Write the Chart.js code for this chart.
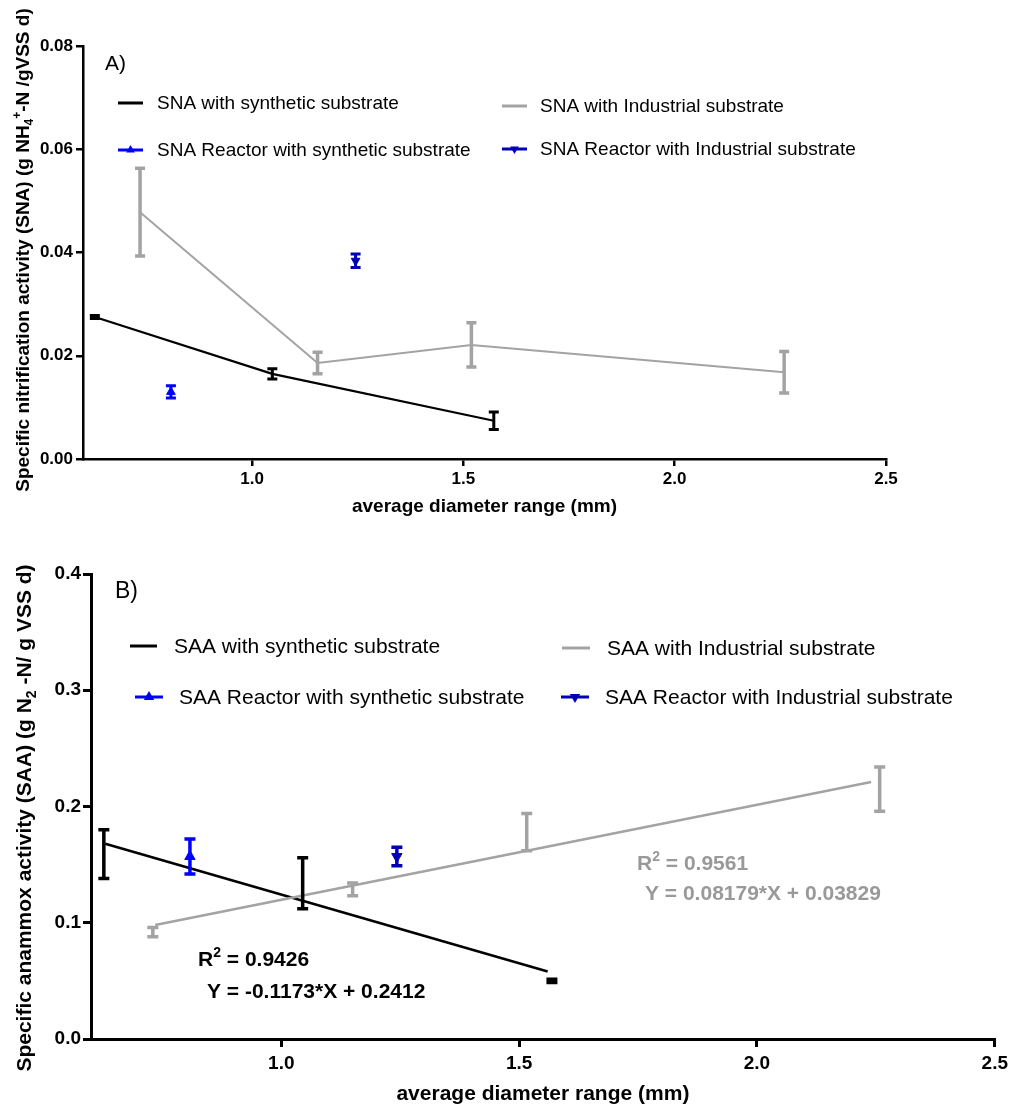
<!DOCTYPE html>
<html>
<head>
<title>SNA and SAA vs average diameter range</title>
<script src="https://cdn.jsdelivr.net/npm/chart.js"></script>
<style>
  body { margin: 0; background: #fff; }
  #wrap { position: relative; width: 1013px; height: 1107px; }
  #chartA { position: absolute; left: 0; top: 0; }
  #chartB { position: absolute; left: 0; top: 540px; }
</style>
</head>
<body>
<div id="wrap">
  <canvas id="chartA" width="1013" height="540"></canvas>
  <canvas id="chartB" width="1013" height="567"></canvas>
</div>

<script>
// ---- data ----
const xTicks = [1.0, 1.5, 2.0, 2.5];
const snaTicks = [0, 0.02, 0.04, 0.06, 0.08];
const saaTicks = [0, 0.1, 0.2, 0.3, 0.4];

// A) specific nitrification activity
const snaSynX = [0.628, 1.048, 1.572];
const snaSynY = [0.0275, 0.0165, 0.0074];
const snaSynErr = [0.0003, 0.0010, 0.0017];
const snaIndX = [0.735, 1.155, 1.519, 2.259];
const snaIndY = [0.0478, 0.0186, 0.0221, 0.0168];
const snaIndErr = [0.0085, 0.0021, 0.0043, 0.0040];
const snaRSynX = [0.808];
const snaRSynY = [0.0130];
const snaRSynErr = [0.0012];
const snaRIndX = [1.245];
const snaRIndY = [0.0384];
const snaRIndErr = [0.0013];

// B) specific anammox activity
const saaSynX = [0.627, 1.045, 1.569];
const saaSynY = [0.159, 0.134, 0.050];
const saaSynErr = [0.021, 0.022, 0.0015];
const saaSynFitX = [0.63, 1.56];
const saaSynFitY = [0.168, 0.058];
const saaIndX = [0.730, 1.150, 1.516, 2.258];
const saaIndY = [0.092, 0.1287, 0.178, 0.215];
const saaIndErr = [0.004, 0.0055, 0.016, 0.019];
const saaIndFitX = [0.735, 2.24];
const saaIndFitY = [0.098, 0.221];
const saaRSynX = [0.808];
const saaRSynY = [0.157];
const saaRSynErr = [0.015];
const saaRIndX = [1.243];
const saaRIndY = [0.157];
const saaRIndErr = [0.008];

const legendA = ['SNA with synthetic substrate', 'SNA with Industrial substrate',
                 'SNA Reactor with synthetic substrate', 'SNA Reactor with Industrial substrate'];
const legendB = ['SAA with synthetic substrate', 'SAA with Industrial substrate',
                 'SAA Reactor with synthetic substrate', 'SAA Reactor with Industrial substrate'];
const fitSynText = ['0.9426', 'Y = -0.1173*X + 0.2412'];
const fitIndText = ['0.9561', 'Y = 0.08179*X + 0.03829'];

const FONT = '"Liberation Sans", Arial, Helvetica, sans-serif';
const BLACK = '#000000', GREY = '#a3a3a3', BLUE = '#0000ff', DBLUE = '#0000b4';

const pts = (xs, ys) => xs.map((x, i) => ({ x: x, y: ys[i] }));

// rich text with sub/superscripts: parts = [[text, 'sub'|'sup'|undefined], ...]
function drawRich(ctx, parts, x, y, size, weight, color, align, rotate) {
  ctx.save();
  ctx.translate(x, y);
  if (rotate) ctx.rotate(rotate);
  ctx.fillStyle = color;
  ctx.textBaseline = 'alphabetic';
  const fontFor = p => `${weight} ${p[1] ? Math.round(size * 0.65) : size}px ${FONT}`;
  let total = 0;
  parts.forEach(p => { ctx.font = fontFor(p); total += ctx.measureText(p[0]).width; });
  let cx = align === 'center' ? -total / 2 : 0;
  parts.forEach(p => {
    ctx.font = fontFor(p);
    const dy = p[1] === 'sub' ? size * 0.22 : p[1] === 'sup' ? -size * 0.42 : 0;
    ctx.fillText(p[0], cx, dy);
    cx += ctx.measureText(p[0]).width;
  });
  ctx.restore();
}

function triangle(ctx, x, y, r, down, color) {
  ctx.save();
  ctx.fillStyle = color;
  ctx.beginPath();
  const s = down ? -1 : 1;
  ctx.moveTo(x, y - s * r);
  ctx.lineTo(x + r * 0.87, y + s * r * 0.5);
  ctx.lineTo(x - r * 0.87, y + s * r * 0.5);
  ctx.closePath();
  ctx.fill();
  ctx.restore();
}

function legendEntry(ctx, e, size, lw, r) {
  ctx.save();
  ctx.strokeStyle = e.color;
  ctx.lineWidth = lw;
  ctx.beginPath();
  ctx.moveTo(e.x1, e.y);
  ctx.lineTo(e.x2, e.y);
  ctx.stroke();
  if (e.marker) triangle(ctx, (e.x1 + e.x2) / 2, e.y, r, e.marker === 'down', e.color);
  ctx.fillStyle = '#000';
  ctx.font = `${size}px ${FONT}`;
  ctx.textBaseline = 'middle';
  ctx.fillText(e.label, e.tx, e.y + 1);
  ctx.restore();
}

const errorBars = {
  id: 'errorBars',
  afterDatasetsDraw(chart) {
    const { ctx, scales: { x, y } } = chart;
    chart.data.datasets.forEach(ds => {
      if (!ds.err) return;
      ctx.save();
      ctx.strokeStyle = ds.borderColor;
      ctx.lineWidth = ds.barWidth;
      ctx.lineCap = 'butt';
      ds.data.forEach((p, i) => {
        const px = x.getPixelForValue(p.x);
        const top = y.getPixelForValue(p.y + ds.err[i]);
        const bot = y.getPixelForValue(p.y - ds.err[i]);
        const c = ds.cap;
        ctx.beginPath();
        ctx.moveTo(px, top); ctx.lineTo(px, bot);
        ctx.moveTo(px - c, top); ctx.lineTo(px + c, top);
        ctx.moveTo(px - c, bot); ctx.lineTo(px + c, bot);
        ctx.stroke();
      });
      ctx.restore();
    });
  }
};

function scales(p) {
  return {
    x: {
      type: 'linear', min: 0.6, max: 2.5,
      afterBuildTicks: s => { s.ticks = xTicks.map(v => ({ value: v })); },
      afterFit: s => { s.height = p.xH; },
      ticks: { color: '#000', font: { family: FONT, size: p.tick, weight: 'bold' }, padding: p.xPad,
               maxRotation: 0, autoSkip: false, callback: v => v.toFixed(1) },
      grid: { drawOnChartArea: false, drawTicks: true, tickLength: p.tl, tickWidth: p.lw,
              tickColor: '#000', color: '#000', lineWidth: p.lw },
      border: { display: true, color: '#000', width: p.lw }
    },
    y: {
      type: 'linear', min: p.yTicks[0], max: p.yTicks[p.yTicks.length - 1],
      afterBuildTicks: s => { s.ticks = p.yTicks.map(v => ({ value: v })); },
      afterFit: s => { s.width = p.yW; },
      ticks: { color: '#000', font: { family: FONT, size: p.tick, weight: 'bold' }, padding: p.yPad,
               autoSkip: false, callback: v => v.toFixed(p.dec) },
      grid: { drawOnChartArea: false, drawTicks: true, tickLength: p.tl, tickWidth: p.lw,
              tickColor: '#000', color: '#000', lineWidth: p.lw },
      border: { display: true, color: '#000', width: p.lw }
    }
  };
}

const common = {
  responsive: false,
  animation: false,
  plugins: { legend: { display: false }, tooltip: { enabled: false } },
  elements: { line: { tension: 0 } }
};

// ---- chart A ----
new Chart(document.getElementById('chartA'), {
  type: 'scatter',
  data: {
    datasets: [
      { data: pts(snaIndX, snaIndY), err: snaIndErr, showLine: true, borderColor: GREY, borderWidth: 2,
        pointRadius: 0, barWidth: 3.5, cap: 5 },
      { data: pts(snaSynX, snaSynY), err: snaSynErr, showLine: true, borderColor: BLACK, borderWidth: 2.2,
        pointRadius: 0, barWidth: 3, cap: 5 },
      { data: pts(snaRSynX, snaRSynY), err: snaRSynErr, borderColor: BLUE, backgroundColor: BLUE,
        pointStyle: 'triangle', pointRadius: 5, barWidth: 3, cap: 5 },
      { data: pts(snaRIndX, snaRIndY), err: snaRIndErr, borderColor: DBLUE, backgroundColor: DBLUE,
        pointStyle: 'triangle', rotation: 180, pointRadius: 5, barWidth: 3, cap: 5 }
    ]
  },
  options: Object.assign({}, common, {
    layout: { padding: { top: 46, right: 127, left: 0, bottom: 0 } },
    scales: scales({ xH: 81, yW: 83, tick: 17, xPad: 3, yPad: 3, tl: 7, lw: 2.5, yTicks: snaTicks, dec: 2 })
  }),
  plugins: [errorBars, {
    id: 'decorA',
    afterDraw(chart) {
      const ctx = chart.ctx;
      const a = chart.chartArea;
      drawRich(ctx, [['Specific nitrification activity (SNA) (g NH'], ['4', 'sub'], ['+', 'sup'], ['-N /gVSS d)']],
               29, 250, 19, 'bold', '#000', 'center', -Math.PI / 2);
      drawRich(ctx, [['average diameter range (mm)']], (a.left + a.right) / 2, 512, 19, 'bold', '#000', 'center');
      ctx.save();
      ctx.font = `21px ${FONT}`; ctx.fillStyle = '#000'; ctx.textBaseline = 'middle';
      ctx.fillText('A)', 105, 64);
      ctx.restore();
      const rows = [
        { x1: 118, x2: 143, y: 103, tx: 157, color: BLACK, label: legendA[0] },
        { x1: 502, x2: 527, y: 106, tx: 540, color: GREY, label: legendA[1] },
        { x1: 118, x2: 143, y: 150, tx: 157, color: BLUE, marker: 'up', label: legendA[2] },
        { x1: 502, x2: 527, y: 149, tx: 540, color: DBLUE, marker: 'down', label: legendA[3] }
      ];
      rows.forEach(e => legendEntry(ctx, e, 19, 3, 5));
    }
  }]
});

// ---- chart B ----
new Chart(document.getElementById('chartB'), {
  type: 'scatter',
  data: {
    datasets: [
      { data: pts(saaIndFitX, saaIndFitY), showLine: true, borderColor: GREY, borderWidth: 2.5, pointRadius: 0 },
      { data: pts(saaSynFitX, saaSynFitY), showLine: true, borderColor: BLACK, borderWidth: 2.5, pointRadius: 0 },
      { data: pts(saaIndX, saaIndY), err: saaIndErr, borderColor: GREY, pointRadius: 0, barWidth: 3.5, cap: 5.5 },
      { data: pts(saaSynX, saaSynY), err: saaSynErr, borderColor: BLACK, pointRadius: 0, barWidth: 3.5, cap: 5.5 },
      { data: pts(saaRSynX, saaRSynY), err: saaRSynErr, borderColor: BLUE, backgroundColor: BLUE,
        pointStyle: 'triangle', pointRadius: 6, barWidth: 3.5, cap: 5.5 },
      { data: pts(saaRIndX, saaRIndY), err: saaRIndErr, borderColor: DBLUE, backgroundColor: DBLUE,
        pointStyle: 'triangle', rotation: 180, pointRadius: 6, barWidth: 3.5, cap: 5.5 }
    ]
  },
  options: Object.assign({}, common, {
    layout: { padding: { top: 34, right: 18, left: 0, bottom: 0 } },
    scales: scales({ xH: 68, yW: 91, tick: 19, xPad: 5, yPad: 2, tl: 8, lw: 3, yTicks: saaTicks, dec: 1 })
  }),
  plugins: [errorBars, {
    id: 'decorB',
    afterDraw(chart) {
      const ctx = chart.ctx;
      const a = chart.chartArea;
      drawRich(ctx, [['Specific anammox activity (SAA) (g N'], ['2', 'sub'], [' -N/ g VSS d)']],
               31, 278, 21, 'bold', '#000', 'center', -Math.PI / 2);
      drawRich(ctx, [['average diameter range (mm)']], (a.left + a.right) / 2, 560, 21, 'bold', '#000', 'center');
      ctx.save();
      ctx.font = `23px ${FONT}`; ctx.fillStyle = '#000'; ctx.textBaseline = 'middle';
      ctx.fillText('B)', 115, 52);
      ctx.restore();
      const rows = [
        { x1: 130, x2: 157, y: 106, tx: 174, color: BLACK, label: legendB[0] },
        { x1: 562, x2: 590, y: 108, tx: 607, color: GREY, label: legendB[1] },
        { x1: 135, x2: 163, y: 157, tx: 179, color: BLUE, marker: 'up', label: legendB[2] },
        { x1: 561, x2: 589, y: 157, tx: 605, color: DBLUE, marker: 'down', label: legendB[3] }
      ];
      rows.forEach(e => legendEntry(ctx, e, 21, 3, 6));
      // regression annotations
      drawRich(ctx, [['R'], ['2', 'sup'], [' = ' + fitSynText[0]]], 198, 426, 21, 'bold', '#000', 'left');
      drawRich(ctx, [[fitSynText[1]]], 207, 458, 21, 'bold', '#000', 'left');
      drawRich(ctx, [['R'], ['2', 'sup'], [' = ' + fitIndText[0]]], 637, 330, 21, 'bold', '#999999', 'left');
      drawRich(ctx, [[fitIndText[1]]], 645, 360, 21, 'bold', '#999999', 'left');
    }
  }]
});
</script>
</body>
</html>
